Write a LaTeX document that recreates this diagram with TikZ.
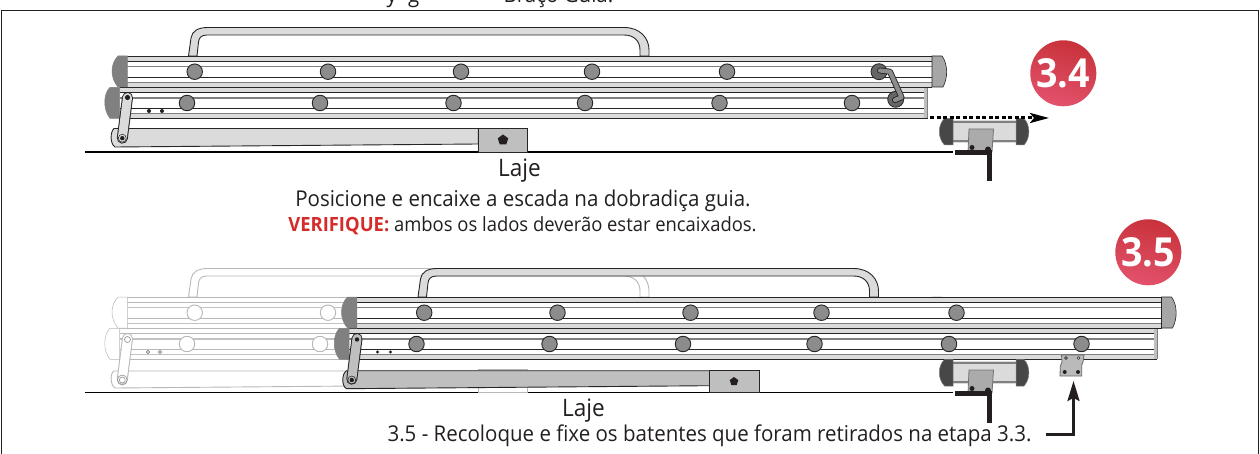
\documentclass[tikz,border=0pt]{standalone}
\usepackage{fontspec}
\setmainfont[FakeStretch=0.94]{Open Sans}
\usetikzlibrary{arrows.meta,shapes.geometric}
\definecolor{redtxt}{HTML}{D52B2B}
\definecolor{badgeA}{HTML}{C8323A}
\definecolor{badgeB}{HTML}{E2526C}
\definecolor{ink}{HTML}{231F20}
\tikzset{
  every node/.style={inner sep=0pt,outer sep=0pt,text=ink},
  capt/.style={font=\fontsize{21.8}{24}\selectfont,anchor=base},
  capts/.style={font=\fontsize{19.6}{22}\selectfont,anchor=base},
  lajelabel/.style={font=\fontsize{24}{26}\selectfont,anchor=base},
  badge/.style={font=\bfseries\fontsize{40}{42}\selectfont,text=white},
  knob/.style={circle,draw=lnD,fill=flK,line width=0.9pt,minimum size=15.5pt},
  rl/.style={draw=lnD,line width=.8pt},
  rg/.style={draw=lnG,line width=1.3pt},
  part/.style={draw=lnD,line width=.9pt},
  floorline/.style={draw=black,line width=1.3pt},
  heavy/.style={draw=ink,line width=5pt},
}
\newcommand{\railset}[3]{% x left, x right, y top
  \fill[white] (#1,#3) rectangle (#2,#3+31);
  \fill[flL] (#1,#3) rectangle (#2,#3+5);
  \fill[flL] (#1,#3+26) rectangle (#2,#3+31);
  \draw[rl] (#1,#3) -- (#2,#3);
  \draw[rl] (#1,#3+5) -- (#2,#3+5);
  \draw[rg] (#1,#3+10.6) -- (#2,#3+10.6);
  \draw[rl] (#1,#3+21.2) -- (#2,#3+21.2);
  \draw[rg] (#1,#3+26) -- (#2,#3+26);
  \draw[rl] (#1,#3+31) -- (#2,#3+31);
}
\newcommand{\ladderbody}{%
  % handle
  \draw[part,fill=flL] (188.5,56) -- (191,38) .. controls (192,31) and (198,27.5) .. (208,27.5)
    -- (624,27.5) .. controls (640,27.5) and (649,38) .. (649,50) -- (649,56) -- (640,56) -- (640,50)
    .. controls (640,41) and (634,35) .. (624,35) -- (207,35) .. controls (201,35) and (199,38) .. (198.5,42) -- (197,56) -- cycle;
  % lower rail
  \fill[flG] (924,87.3) rectangle (927.5,118.3);
  \draw[draw=lnG,line width=.7pt] (927.5,87.3) -- (927.5,118.3);
  \railset{119.6}{924}{87.3}
  \draw[draw=lnD,line width=.8pt] (119.6,118.3) -- (927.5,118.3);
  \fill[flC,draw=capD,line width=.5pt] (119.6,87.3) -- (110,87.3) .. controls (103,94) and (103,110) .. (110,118.3) -- (119.6,118.3) -- cycle;
  % upper rail
  \railset{127.3}{932}{56.2}
  \fill[flC,draw=capD,line width=.5pt] (127.3,56) -- (118,56) .. controls (110,64) and (110,78) .. (118,87) -- (127.3,87) -- cycle;
  \fill[flR,draw=lnD,line width=.6pt] (932,56) -- (942,56) .. controls (948,64) and (948,78) .. (943,87) -- (932,87) -- cycle;
  % knobs
  \foreach \kx in {194.7,328,461,592,727} \node[knob] at (\kx,71.7) {};
  \foreach \kx in {187,320,453.5,585,719.5,852} \node[knob] at (\kx,103) {};
}
\newcommand{\pivotarm}{%
  \draw[draw=lnD,line width=11pt,line cap=round] (127.5,97.5) -- (122.3,138.2);
  \draw[draw=flLk,line width=9pt,line cap=round] (127.5,97.5) -- (122.3,138.2);
}
\begin{document}
\begin{tikzpicture}[x=1pt,y=-1pt]
\useasboundingbox (0,0) rectangle (1260,454);
\fill[white] (0,0) rectangle (1260,454);
% frame
\draw[draw=ink,line width=1pt] (1.5,454) -- (1.5,11) -- (1258.5,11) -- (1258.5,454);
\node[capt] (cutA) at (403,2.5) {y\hspace{11pt}g};
\node[capt] (cutB) at (558.5,2.5) {Braço Guia.};

% floor lines
\draw[floorline] (85,152) -- (953,152);
\draw[floorline] (85,392.7) -- (953,392.7);

% ------- step 3.4
\begin{scope}
\colorlet{lnD}{black!85}\colorlet{lnG}{black!50}\colorlet{flL}{black!14}\colorlet{flK}{black!45}
\colorlet{flC}{black!50}\colorlet{capD}{black!50}\colorlet{flR}{black!35}\colorlet{flG}{black!25}\colorlet{flLk}{black!14}
\ladderbody
% hinge link between rails
\fill[black!60,draw=black!85,line width=.8pt] (879,71.7) circle (8);
\fill[black!60,draw=black!85,line width=.8pt] (895.7,99.3) circle (8);
\draw[draw=black!85,line width=6pt,line join=round,line cap=round] (880,70.5) -- (890,71.7) -- (901.5,97.3) -- (895,100);
\draw[draw=black!45,line width=4.2pt,line join=round,line cap=round] (880,70.5) -- (890,71.7) -- (901.5,97.3) -- (895,100);
% beam, block
\draw[part,fill=flL] (478.3,144) -- (115,147) .. controls (110,144) and (110,132) .. (114,128.5) -- (478.3,128.5) -- cycle;
\draw[part,fill=black!25] (478.3,128) rectangle (527.7,152);
\node[regular polygon,regular polygon sides=5,fill=ink,minimum size=11pt] (lock1) at (503,140) {};
\pivotarm
\fill[ink] (127.5,97.5) circle (2.6);
\fill[ink] (122.3,138.2) circle (2.2);
\draw[ink,line width=.5pt] (122.3,138.2) circle (4);
\fill[ink] (149,111) circle (2);
\fill[ink] (162,111) circle (2);
\end{scope}

% ------- step 3.5: ghost position
\begin{scope}[shift={(0,241)}]
\colorlet{lnD}{black!28}\colorlet{lnG}{black!24}\colorlet{flL}{white}\colorlet{flK}{white}
\colorlet{flC}{white}\colorlet{capD}{black!28}\colorlet{flR}{white}\colorlet{flG}{white}\colorlet{flLk}{white}
\ladderbody
\draw[part,fill=white] (478.3,128.5) rectangle (527.7,151.7);
\draw[part,fill=white] (478.3,144) -- (115,147) .. controls (110,144) and (110,132) .. (114,130) -- (478.3,130) -- cycle;
\pivotarm
\draw[black!40,line width=.7pt] (127.5,98.5) circle (3);
\draw[black!40,line width=.7pt] (122.3,139) circle (3);
\draw[black!40,line width=.7pt] (122.3,139) circle (5);
\draw[black!50,line width=.7pt] (148,111) circle (1.7);
\draw[black!50,line width=.7pt] (160,111) circle (1.7);
\end{scope}

% ------- step 3.5: moved ladder
\begin{scope}[shift={(229.5,241)}]
\colorlet{lnD}{black!85}\colorlet{lnG}{black!50}\colorlet{flL}{black!14}\colorlet{flK}{black!45}
\colorlet{flC}{black!50}\colorlet{capD}{black!50}\colorlet{flR}{black!35}\colorlet{flG}{black!25}\colorlet{flLk}{black!25}
\ladderbody
\draw[part,fill=black!25] (480,144.7) -- (117,147.7) .. controls (112,145) and (112,133) .. (117,129.7) -- (480,129.7) -- cycle;
\draw[part,fill=black!25] (479.8,129) rectangle (529.5,151.7);
\node[regular polygon,regular polygon sides=5,fill=ink,minimum size=9pt] (lock2) at (504.5,140.5) {};
\pivotarm
\fill[ink] (127.5,98.5) circle (2.2);
\fill[ink] (122.3,139) circle (2.2);
\draw[ink,line width=.5pt] (122.3,139) circle (4);
\fill[ink] (148,111) circle (1.7);
\fill[ink] (161,111) circle (1.7);
\end{scope}

% guide hinges
\foreach \gy in {0,241}{
\begin{scope}[shift={(0,\gy)}]
\fill[black!14] (953,120) rectangle (1016,143);
\draw[black!50,line width=1.4pt] (953,122) -- (1016,122);
\draw[black!50,line width=1.4pt] (953,141) -- (1016,141);
\fill[black!72,draw=black!50,line width=.5pt] (953,118.5) -- (944.5,118.5) .. controls (937.5,125) and (937.5,138) .. (944.5,145) -- (953,145) -- cycle;
\fill[black!72,draw=black!50,line width=.5pt] (1016,118.5) -- (1024,118.5) .. controls (1030.5,125) and (1030.5,138) .. (1024,145) -- (1016,145) -- cycle;
\fill[black!33,draw=black!55,line width=.8pt] (969,129) -- (993.5,129) -- (992,152) -- (968,152) -- cycle;
\draw[heavy] (955,152.5) -- (989,152.5) -- (989,181.5);
\fill[ink] (972,147.5) circle (2.5);
\fill[ink] (988,149.5) circle (3);
\end{scope}}

% dashed arrow of step 3.4
\coordinate (dashA) at (930,118);
\coordinate (dashB) at (1049,118);
\draw[draw=black,line width=3pt,dash pattern=on 4pt off 2.5pt,-{Stealth[length=19pt,width=10pt,inset=4pt]}] (dashA) -- (dashB);

% door stop
\draw[draw=black!60,fill=black!27,line width=.8pt] (1061.5,355) -- (1084,355) -- (1083,362) -- (1081.7,365) -- (1081.7,376) -- (1060,376) -- (1060.3,366) -- (1062,362) -- cycle;
\fill[white,draw=ink,line width=.6pt] (1066,358) circle (1.4);
\fill[white,draw=ink,line width=.6pt] (1078.6,358) circle (1.4);
\fill[ink] (1064.7,372) circle (2);
\fill[ink] (1078,372) circle (2);

% solid arrow of step 3.5
\coordinate (stepA) at (1046,434.5);
\coordinate (stepB) at (1073.5,381);
\draw[draw=ink,line width=2.4pt,-{Stealth[length=20pt,width=12pt,inset=3pt]}] (stepA) -| (stepB);

% badges
\shade[top color=badgeA,bottom color=badgeB,shading angle=-15] (1063.3,73.3) circle (33);
\node[badge] (b34) at (1063.3,73.3) {3.4};
\shade[top color=badgeA,bottom color=badgeB,shading angle=-15] (1148.3,252.3) circle (33);
\node[badge] (b35) at (1148.3,252.3) {3.5};

% texts
\node[lajelabel] (laje1) at (519.5,176.5) {Laje};
\node[lajelabel] (laje2) at (583.5,416.5) {Laje};
\node[capt] (t1) at (523,206.5) {Posicione e encaixe a escada na dobradiça guia.};
\node[capts] (t2) at (522.5,231.5) {{\bfseries\color{redtxt}VERIFIQUE:} ambos os lados deverão estar encaixados.};
\node[capt] (t3) at (709.5,441) {3.5 - Recoloque e fixe os batentes que foram retirados na etapa 3.3.};
\end{tikzpicture}
\end{document}
